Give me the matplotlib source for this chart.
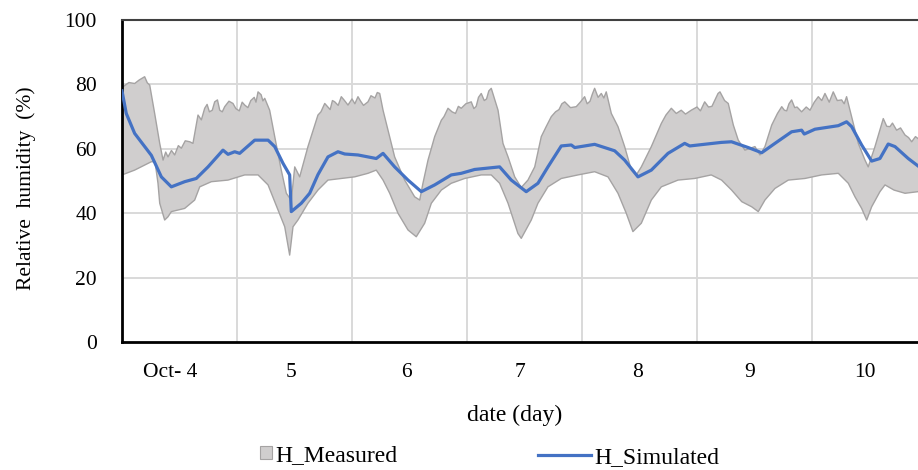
import matplotlib
matplotlib.use("Agg")
import matplotlib.pyplot as plt
from matplotlib.lines import Line2D
from matplotlib.patches import Patch
import numpy as np

plt.rcParams["font.family"] = ["Liberation Serif", "DejaVu Serif"]

# measured RH band: upper and lower envelopes (day of October, %)
upper_day = [4.000, 4.009, 4.060, 4.110, 4.150, 4.197, 4.220, 4.241, 4.284, 4.328,
             4.357, 4.380, 4.400, 4.430, 4.458, 4.490, 4.516, 4.550, 4.589, 4.617,
             4.661, 4.690, 4.719, 4.740, 4.760, 4.785, 4.806, 4.830, 4.850, 4.872,
             4.893, 4.930, 4.965, 4.990, 5.020, 5.045, 5.067, 5.095, 5.120, 5.150,
             5.165, 5.183, 5.210, 5.225, 5.241, 5.284, 5.328, 5.385, 5.429, 5.472,
             5.502, 5.545, 5.617, 5.704, 5.730, 5.763, 5.790, 5.810, 5.830, 5.850,
             5.880, 5.907, 5.935, 5.965, 6.000, 6.025, 6.052, 6.075, 6.100, 6.139,
             6.165, 6.200, 6.220, 6.241, 6.270, 6.313, 6.371, 6.458, 6.545, 6.589,
             6.617, 6.661, 6.719, 6.777, 6.800, 6.835, 6.870, 6.900, 6.925, 6.950,
             6.990, 7.037, 7.060, 7.080, 7.100, 7.124, 7.150, 7.170, 7.190, 7.211,
             7.240, 7.270, 7.313, 7.357, 7.415, 7.472, 7.530, 7.589, 7.646, 7.690,
             7.733, 7.770, 7.800, 7.825, 7.850, 7.900, 7.950, 7.985, 8.023, 8.045,
             8.070, 8.090, 8.110, 8.140, 8.168, 8.190, 8.211, 8.255, 8.313, 8.371,
             8.429, 8.472, 8.516, 8.603, 8.690, 8.730, 8.777, 8.820, 8.863, 8.900,
             8.950, 9.000, 9.030, 9.067, 9.100, 9.130, 9.160, 9.183, 9.200, 9.240,
             9.272, 9.316, 9.359, 9.417, 9.504, 9.548, 9.591, 9.650, 9.700, 9.737,
             9.760, 9.780, 9.800, 9.823, 9.850, 9.870, 9.910, 9.950, 9.983, 10.020,
             10.055, 10.085, 10.113, 10.150, 10.185, 10.220, 10.258, 10.280, 10.301, 10.345,
             10.403, 10.461, 10.489, 10.548, 10.620, 10.650, 10.678, 10.700, 10.736, 10.770,
             10.809, 10.840, 10.867, 10.900, 10.922]
upper_rh = [79.5, 79.3, 80.6, 80.3, 81.4, 82.4, 80.5, 79.8, 71.0, 61.7,
            56.5, 59.0, 57.5, 59.5, 58.1, 61.0, 60.2, 62.5, 62.2, 61.7,
            70.5, 69.0, 72.6, 73.8, 71.5, 72.0, 74.6, 75.2, 72.0, 71.5,
            73.1, 74.8, 74.1, 72.5, 71.8, 74.5, 73.6, 72.8, 75.0, 76.0,
            74.5, 77.7, 76.8, 74.9, 75.7, 72.0, 63.8, 53.4, 46.2, 44.0,
            54.4, 51.3, 60.7, 70.5, 71.5, 74.1, 73.0, 72.2, 75.0, 74.6,
            73.5, 76.2, 75.0, 73.6, 75.5, 74.0, 76.2, 74.8, 73.5, 74.6,
            76.5, 75.8, 77.5, 77.2, 72.0, 65.8, 57.5, 50.3, 45.1, 44.1,
            49.3, 56.5, 63.8, 68.9, 70.0, 72.6, 71.5, 71.0, 73.2, 72.6,
            74.0, 74.6, 72.5, 73.2, 76.0, 77.2, 75.0, 75.5, 78.0, 78.8,
            75.5, 72.0, 61.7, 57.5, 51.3, 48.0, 50.3, 54.4, 63.8, 67.0,
            70.0, 71.5, 72.2, 74.0, 74.6, 72.8, 73.1, 74.5, 76.2, 74.0,
            74.8, 77.0, 78.8, 76.0, 77.2, 75.8, 77.7, 71.0, 66.9, 60.7,
            53.4, 51.9, 54.4, 60.7, 67.9, 70.5, 72.6, 71.0, 72.0, 70.8,
            72.0, 73.0, 71.8, 74.6, 73.0, 73.2, 75.5, 77.2, 77.7, 75.0,
            74.1, 67.4, 62.7, 59.6, 60.7, 58.1, 60.7, 67.4, 71.0, 73.1,
            72.0, 71.8, 74.0, 75.2, 72.8, 73.0, 71.5, 73.0, 72.0, 74.5,
            76.2, 75.0, 77.2, 74.5, 77.7, 75.0, 75.2, 74.0, 76.2, 70.0,
            61.7, 56.5, 54.4, 60.7, 69.4, 67.0, 66.9, 68.0, 65.8, 66.5,
            64.3, 63.5, 62.2, 63.8, 63.2]

lower_day = [4.000, 4.110, 4.255, 4.287, 4.313, 4.328, 4.371, 4.400, 4.429, 4.545,
             4.632, 4.676, 4.777, 4.922, 5.067, 5.183, 5.270, 5.357, 5.415, 5.458,
             5.487, 5.530, 5.617, 5.704, 5.791, 5.907, 6.023, 6.139, 6.211, 6.270,
             6.328, 6.400, 6.487, 6.559, 6.632, 6.690, 6.777, 6.863, 6.980, 7.124,
             7.211, 7.284, 7.357, 7.443, 7.472, 7.559, 7.617, 7.704, 7.820, 7.965,
             8.110, 8.226, 8.313, 8.385, 8.443, 8.516, 8.603, 8.690, 8.835, 8.980,
             9.124, 9.214, 9.301, 9.389, 9.476, 9.533, 9.591, 9.678, 9.794, 9.939,
             10.084, 10.229, 10.316, 10.374, 10.432, 10.476, 10.519, 10.591, 10.635, 10.713,
             10.809, 10.922]
lower_rh = [51.9, 53.4, 56.0, 56.0, 49.3, 43.1, 37.9, 38.9, 40.5, 41.5,
            44.1, 48.2, 49.8, 50.3, 51.9, 51.9, 48.8, 41.0, 35.8, 27.0,
            35.8, 37.9, 43.1, 47.2, 50.3, 50.8, 51.3, 52.4, 53.4, 50.3,
            46.2, 40.0, 34.8, 32.7, 36.9, 43.1, 47.2, 49.3, 50.8, 51.9,
            51.9, 49.3, 43.1, 33.7, 32.2, 37.9, 43.1, 48.2, 50.8, 51.9,
            52.9, 51.3, 46.2, 40.0, 34.3, 36.9, 44.1, 48.2, 50.3, 50.8,
            51.9, 50.3, 47.2, 43.6, 42.0, 40.5, 44.1, 47.7, 50.3, 50.8,
            51.9, 52.4, 49.3, 45.1, 41.5, 37.9, 42.0, 46.7, 48.8, 47.2,
            46.2, 46.7]

# simulated RH
sim_day = [4.000, 4.037, 4.110, 4.255, 4.342, 4.429, 4.545, 4.646, 4.748, 4.878,
           4.922, 4.980, 5.023, 5.154, 5.270, 5.328, 5.400, 5.458, 5.472, 5.559,
           5.632, 5.704, 5.791, 5.878, 5.937, 6.052, 6.211, 6.270, 6.371, 6.487,
           6.603, 6.719, 6.863, 6.950, 7.067, 7.284, 7.385, 7.515, 7.617, 7.704,
           7.820, 7.907, 7.937, 8.110, 8.284, 8.371, 8.487, 8.603, 8.748, 8.893,
           8.937, 9.211, 9.300, 9.446, 9.563, 9.678, 9.823, 9.910, 9.933, 10.026,
           10.229, 10.301, 10.345, 10.432, 10.519, 10.591, 10.663, 10.722, 10.837, 10.922]
sim_rh = [78.0, 71.0, 64.8, 58.0, 51.3, 48.2, 49.8, 50.8, 54.4, 59.6,
          58.3, 59.1, 58.6, 62.7, 62.7, 60.7, 55.5, 51.9, 40.5, 43.1,
          46.2, 52.0, 57.5, 59.1, 58.4, 58.1, 57.0, 58.6, 54.4, 50.3,
          46.7, 48.8, 51.9, 52.4, 53.6, 54.4, 50.3, 46.7, 49.3, 54.4,
          60.9, 61.2, 60.4, 61.4, 59.4, 56.5, 51.3, 53.4, 58.6, 61.7,
          60.9, 62.0, 62.2, 60.4, 58.8, 61.7, 65.3, 65.8, 64.6, 66.1,
          67.2, 68.4, 66.9, 61.2, 56.2, 57.0, 61.5, 60.7, 57.0, 54.7]

day_labels = ["Oct- 4", "5", "6", "7", "8", "9", "10"]
label_pos = [4.42, 5.47, 6.47, 7.46, 8.48, 9.46, 10.46]
grid_days = [5, 6, 7, 8, 9, 10]

BAND_FACE = "#d0cece"
BAND_EDGE = "#a5a3a3"
SIM_BLUE = "#4472c4"

fig = plt.figure(figsize=(9.18, 4.70), dpi=100)
ax = fig.add_axes([0.1329, 0.2723, 0.8671, 0.685])

band_x = np.concatenate([upper_day, lower_day[::-1]])
band_y = np.concatenate([upper_rh, lower_rh[::-1]])
ax.fill(band_x, band_y, facecolor=BAND_FACE, edgecolor="none", zorder=2)
ax.plot(upper_day, upper_rh, color=BAND_EDGE, lw=1.0, zorder=2)
ax.plot(lower_day, lower_rh, color=BAND_EDGE, lw=1.0, zorder=2)
ax.plot(sim_day, sim_rh, color=SIM_BLUE, lw=2.3, zorder=3)

ax.set_xlim(4.0, 10.922)
ax.set_ylim(0, 100)
ax.set_yticks([0, 20, 40, 60, 80, 100])
ax.set_xticks(label_pos)
ax.set_xticklabels(day_labels)
ax.tick_params(axis="both", length=0, labelsize=15.5)
ax.tick_params(axis="y", pad=18)
ax.tick_params(axis="x", pad=15)

for d in grid_days:
    ax.axvline(d, color="#d9d9d9", lw=1.4, zorder=1)
for v in [20, 40, 60, 80]:
    ax.axhline(v, color="#d9d9d9", lw=1.4, zorder=1)

ax.spines["right"].set_visible(False)
ax.spines["left"].set_linewidth(2.0)
ax.spines["bottom"].set_linewidth(2.0)
ax.spines["top"].set_linewidth(1.5)
ax.spines["top"].set_color("#404040")

fig.text(0.029, 0.60, "Relative  humidity  (%)", rotation=90,
         ha="center", va="center", fontsize=15.5)
fig.text(0.561, 0.117, "date (day)", ha="center", va="center", fontsize=17)

meas = Patch(facecolor=BAND_FACE, edgecolor=BAND_EDGE, lw=0.8)
simh = Line2D([], [], color=SIM_BLUE, lw=2.3)
fig.legend([meas], ["H_Measured"], loc="center left",
           bbox_to_anchor=(0.260, 0.031), frameon=False, fontsize=17,
           handlelength=0.5, handleheight=0.5, handletextpad=0.15)
fig.legend([simh], ["H_Simulated"], loc="center left",
           bbox_to_anchor=(0.563, 0.026), frameon=False, fontsize=17,
           handlelength=2.25, handletextpad=0.15)

fig.savefig("out.png", dpi=100)
